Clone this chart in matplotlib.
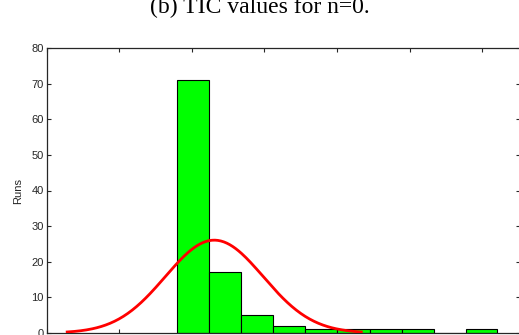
import numpy as np
import matplotlib.pyplot as plt

# histogram of TIC values over 100 runs
bin_edges = [1.80, 2.24, 2.68, 3.12, 3.56, 4.00, 4.45, 4.89, 5.33, 5.77, 6.21]
counts = [71, 17, 5, 2, 1, 1, 1, 1, 0, 1]

# normal fit (mean, std) for the overlay
fit_mu = 2.31
fit_sigma = 0.675
n_runs = sum(counts)

x_ticks = [0, 1, 2, 3, 4, 5, 6]
y_ticks = [0, 10, 20, 30, 40, 50, 60, 70, 80]

fig = plt.figure(figsize=(5.19, 3.35), dpi=100)
ax = fig.add_axes([46.5 / 519, 2 / 335, 473.5 / 519, 285 / 335])

left = np.array(bin_edges[:-1])
width = np.diff(bin_edges)
ax.bar(left, counts, width=width, align='edge', color='#00ff00',
       edgecolor='black', linewidth=0.8, zorder=2)

# fitted curve over mean +/- 3 sigma, scaled to counts
xs = np.linspace(fit_mu - 3 * fit_sigma, fit_mu + 3 * fit_sigma, 200)
bw = np.mean(width)
pdf = np.exp(-0.5 * ((xs - fit_mu) / fit_sigma) ** 2) / (fit_sigma * np.sqrt(2 * np.pi))
ax.plot(xs, pdf * n_runs * bw, color='red', linewidth=2, zorder=3)

ax.set_xlim(0, 6.52)
ax.set_ylim(0, 80)
ax.set_xticks(x_ticks)
ax.set_yticks(y_ticks)
ax.tick_params(direction='in', length=3, width=0.8, top=True, right=True,
               labelsize=8, colors='#262626', labelbottom=False, pad=2)
for s in ax.spines.values():
    s.set_color('#262626')
    s.set_linewidth(0.9)
for lab in ax.get_yticklabels():
    lab.set_fontfamily('Liberation Sans')
ax.set_ylabel('Runs', fontsize=8, family='Liberation Sans', color='#262626', labelpad=6)

fig.text(0.5, 1 - 13.5 / 335, '(b) TIC values for n=0.', ha='center', va='baseline',
         fontsize=17, family='Liberation Serif')

fig.savefig('out.png', dpi=100)
